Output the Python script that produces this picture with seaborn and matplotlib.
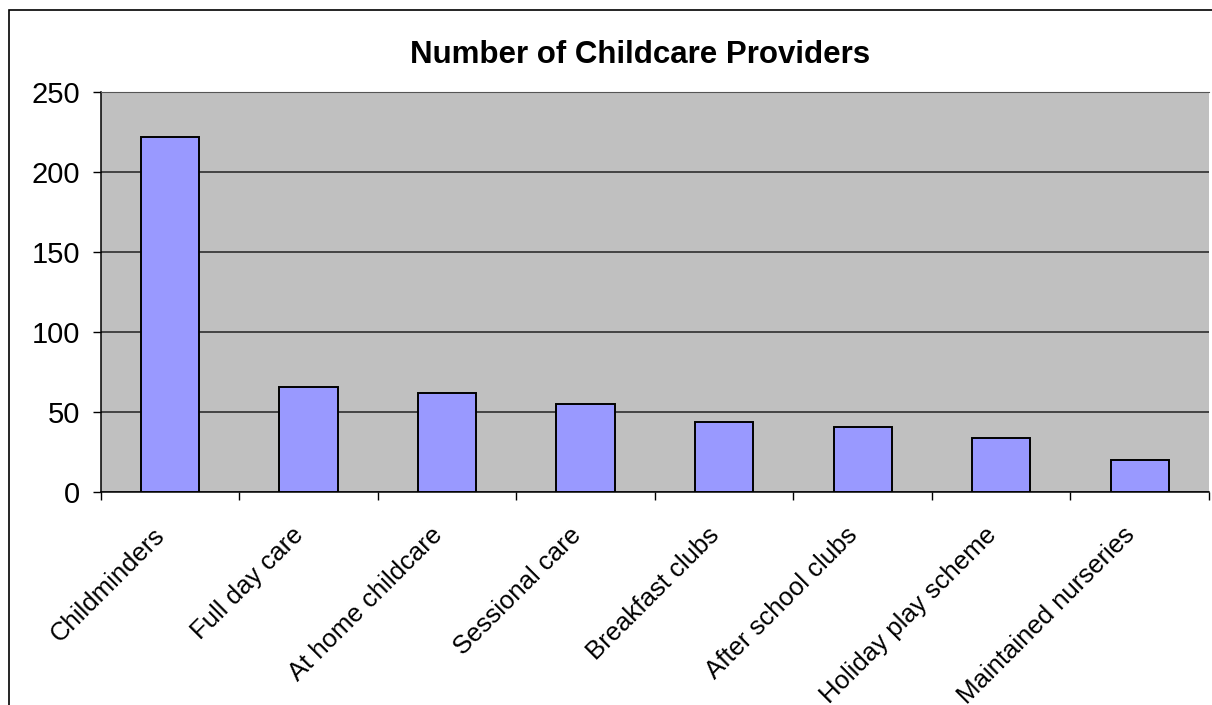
import matplotlib
matplotlib.use("Agg")
import matplotlib.pyplot as plt
import matplotlib.transforms as mtransforms
import numpy as np
import seaborn as sns
from matplotlib.patches import Rectangle

categories = ["Childminders", "Full day care", "At home childcare", "Sessional care",
              "Breakfast clubs", "After school clubs", "Holiday play scheme",
              "Maintained nurseries"]
counts = [222, 66, 62, 55, 44, 41, 34, 20]
y_ticks = [0, 50, 100, 150, 200, 250]

sns.set_style("white")
plt.rcParams['font.family'] = ['Liberation Sans', 'DejaVu Sans']
plt.rcParams['text.color'] = 'black'
plt.rcParams['xtick.color'] = 'black'
plt.rcParams['ytick.color'] = 'black'

W, H = 1212, 705
fig = plt.figure(figsize=(W / 100, H / 100), dpi=100)
ax = fig.add_axes([100.7 / W, 1 - 492.3 / H, (1209 - 100.7) / W, 400 / H])
ax.set_facecolor('#C0C0C0')

sns.barplot(x=categories, y=counts, color='#9999FF', edgecolor='black',
            linewidth=1.4, width=0.42, saturation=1, ax=ax, zorder=3)

ax.set_ylim(0, 250)
ax.set_xlim(-0.5, len(categories) - 0.5)
ax.set_yticks(y_ticks)
ax.set_yticklabels([str(v) for v in y_ticks], fontsize=21)
ax.yaxis.grid(True, color='#222222', linewidth=1.1, zorder=1)
ax.set_axisbelow(True)

# tick marks at category boundaries, labels at centers
ax.set_xticks(np.arange(-0.5, len(categories), 1))
ax.set_xticklabels([''] * (len(categories) + 1))
ax.set_xticks(np.arange(len(categories)), minor=True)
ax.set_xticklabels(categories, minor=True, rotation=45, ha='right', va='top',
                   fontsize=18.5)
shift = mtransforms.ScaledTranslation(-6 / 100, 0, fig.dpi_scale_trans)
for lbl in ax.get_xticklabels(minor=True):
    lbl.set_transform(lbl.get_transform() + shift)
ax.tick_params(axis='x', which='major', length=6, width=1, color='black',
               direction='out', bottom=True)
ax.tick_params(axis='x', which='minor', length=0, pad=22)
ax.tick_params(axis='y', length=6, width=1, color='black', direction='out',
               left=True, pad=9)
ax.set_xlabel('')
ax.set_ylabel('')

for side in ['left', 'bottom']:
    ax.spines[side].set_color('black')
    ax.spines[side].set_linewidth(1.1)
ax.spines['top'].set_color('#555555')
ax.spines['right'].set_visible(False)

fig.text(640 / W, 1 - 55 / H, 'Number of Childcare Providers', fontsize=22.5,
         fontweight='bold', ha='center', va='center')

# outer chart frame (cropped at right and bottom)
fig.patches.append(Rectangle((9 / W, -0.1), 1.2, 1 - 10 / H + 0.1,
                             transform=fig.transFigure, fill=False,
                             edgecolor='black', linewidth=1.2))

fig.savefig('out.png', dpi=100)
